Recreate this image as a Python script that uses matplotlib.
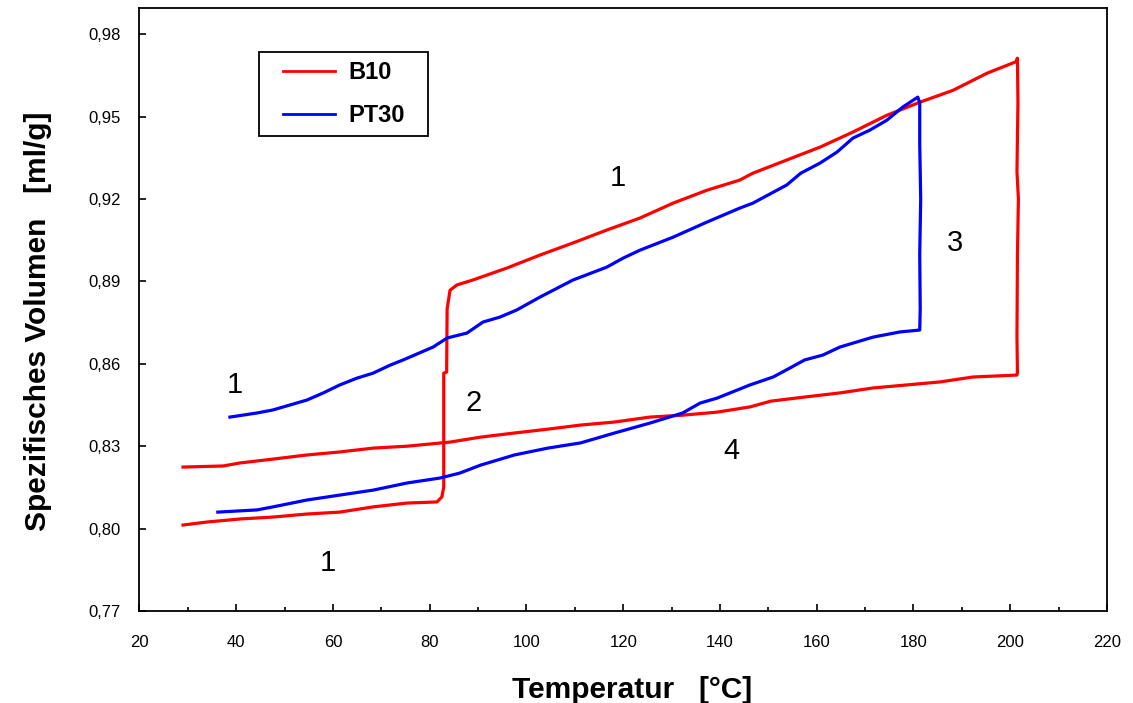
import matplotlib
matplotlib.use("Agg")
import matplotlib.pyplot as plt
from matplotlib.ticker import MultipleLocator
from matplotlib.patches import Rectangle

plt.rcParams['font.family'] = ['Liberation Sans', 'DejaVu Sans']

# B10 (red): heating, melting, heating, isothermal compression, cooling
b10_T = [29.0, 34, 40.8, 47.6, 54.6, 61.4, 68.3, 75.3, 81.5, 82.5, 82.9, 82.9, 83.5, 83.6, 84.2, 85.6,
         88.9, 96, 102.8, 109.6, 116.6, 123.5, 130.3, 137.3, 144.1, 146.8, 153.8, 160.7, 167.5, 174.5,
         181.4, 188.2, 195.2, 201.2, 201.5,
         201.6, 201.4, 201.7, 201.5, 201.4, 201.5,
         201.4, 192.3, 185.5, 178.6, 171.6, 164.8, 157.5, 150.5, 146.2, 139.4, 132.3, 125.5, 118.2,
         111.2, 104.4, 97.5, 90.5, 84.2, 75.3, 68.3, 61.4, 54.6, 47.6, 40.8, 37.3, 29.0]
b10_V = [0.8013, 0.8024, 0.8035, 0.8042, 0.8053, 0.8060, 0.8079, 0.8093, 0.8097, 0.8115, 0.8151, 0.8566,
         0.8570, 0.8800, 0.8868, 0.8887,
         0.8905, 0.8949, 0.8996, 0.9040, 0.9087, 0.9131, 0.9185, 0.9232, 0.9269, 0.9294, 0.9342, 0.9389,
         0.9444, 0.9505, 0.9553, 0.9596, 0.9658, 0.9700, 0.9713,
         0.9550, 0.9300, 0.9200, 0.9000, 0.8700, 0.8566,
         0.8559, 0.8552, 0.8534, 0.8523, 0.8512, 0.8494, 0.8479, 0.8464, 0.8443, 0.8424, 0.8413,
         0.8406, 0.8388, 0.8377, 0.8362, 0.8348, 0.8333, 0.8315, 0.8300, 0.8293, 0.8279, 0.8268,
         0.8253, 0.8239, 0.8228, 0.8224]

# PT30 (blue)
pt30_T = [38.7, 44.3, 47.6, 51.1, 54.6, 58, 61.4, 65, 68.3, 71.8, 74.5, 80.7, 83.6, 87.7, 91, 94.5, 98,
          102.8, 109.6, 116.6, 120, 123.5, 130.3, 137.3, 144.1, 146.8, 153.8, 156.7, 160.7, 164.2,
          167.5, 171, 174.5, 177.8, 180.9,
          181.3, 181.3, 181.5, 181.3, 181.4, 181.3,
          177.2, 171.6, 164.8, 161.3, 157.5, 154.5, 151, 146.2, 139.4, 135.9, 132.3, 125.5, 118.2,
          111.2, 104.4, 97.5, 90.5, 86.2, 82.1, 75.3, 68.3, 61.4, 54.6, 47.6, 44.3, 36.2]
pt30_V = [0.8406, 0.8421, 0.8432, 0.8450, 0.8468, 0.8494, 0.8523, 0.8548, 0.8566, 0.8595, 0.8614,
          0.8661, 0.8694, 0.8712, 0.8752, 0.8770, 0.8796, 0.8843, 0.8905, 0.8952, 0.8985, 0.9014,
          0.9061, 0.9116, 0.9167, 0.9185, 0.9251, 0.9294, 0.9331, 0.9371, 0.9422, 0.9451, 0.9487,
          0.9535, 0.9571,
          0.9550, 0.9400, 0.9200, 0.9000, 0.8800, 0.8723,
          0.8716, 0.8697, 0.8661, 0.8632, 0.8614, 0.8585, 0.8552, 0.8523, 0.8475, 0.8457, 0.8421,
          0.8384, 0.8348, 0.8312, 0.8293, 0.8268, 0.8231, 0.8202, 0.8184, 0.8166, 0.8140, 0.8122,
          0.8104, 0.8079, 0.8068, 0.8060]

# Stage annotations
ann_text = ["1", "1", "2", "3", "4", "1"]
ann_T = [39.8, 118.9, 89.1, 188.5, 142.3, 58.9]
ann_V = [0.8523, 0.9276, 0.8457, 0.9040, 0.8282, 0.7875]

x_ticks = [20, 40, 60, 80, 100, 120, 140, 160, 180, 200, 220]
y_ticks = [0.77, 0.80, 0.83, 0.86, 0.89, 0.92, 0.95, 0.98]
y_labels = ["0,77", "0,80", "0,83", "0,86", "0,89", "0,92", "0,95", "0,98"]

fig = plt.figure(figsize=(11.33, 7.03), dpi=100)
ax = fig.add_axes([0.1231, 0.1309, 0.977 - 0.1231, 0.988 - 0.1309])

ax.plot(b10_T, b10_V, color="#ff0000", lw=2.3, label="B10", solid_joinstyle='round')
ax.plot(pt30_T, pt30_V, color="#0000ff", lw=2.3, label="PT30", solid_joinstyle='round')

for t, xx, yy in zip(ann_text, ann_T, ann_V):
    ax.text(xx, yy, t, fontsize=21, ha="center", va="center", color="black")

ax.set_xlim(20, 220)
ax.set_ylim(0.77, 0.9894)
ax.set_xticks(x_ticks)
ax.set_xticklabels([str(v) for v in x_ticks], fontsize=12)
ax.xaxis.set_minor_locator(MultipleLocator(10))
ax.set_yticks(y_ticks)
ax.set_yticklabels(y_labels, fontsize=12)
ax.tick_params(axis="both", which="major", direction="in", length=5, width=1.2,
               top=False, right=False)
ax.tick_params(axis="x", which="major", pad=17)
ax.tick_params(axis="y", which="major", pad=13.5)
ax.tick_params(axis="x", which="minor", direction="in", length=3, width=1.2, top=False)
for s in ax.spines.values():
    s.set_linewidth(1.3)
    s.set_color("black")

ax.set_xlabel("Temperatur   [°C]", fontsize=21.5, fontweight="bold", labelpad=19)
ax.set_ylabel("Spezifisches Volumen   [ml/g]", fontsize=21.5, fontweight="bold", labelpad=26)
ax.xaxis.label.set_x(0.509)
ax.yaxis.label.set_y(0.48)

# legend: entries without frame, then a box with wider side padding
leg = ax.legend(loc="center left", bbox_to_anchor=(0.1483, 0.8578),
                prop={"weight": "bold", "size": 17}, frameon=False,
                handlelength=2.2, handletextpad=0.55, borderpad=0.0,
                labelspacing=0.82, borderaxespad=0)
for line in leg.get_lines():
    line.set_linewidth(2.0)

fig.canvas.draw()
bb = leg.get_window_extent(fig.canvas.get_renderer())
pad_x, pad_y = 24, 9
inv = fig.transFigure.inverted()
(x0, y0) = inv.transform((bb.x0 - pad_x, bb.y0 - pad_y))
(x1, y1) = inv.transform((bb.x1 + pad_x, bb.y1 + pad_y))
fig.patches.append(Rectangle((x0, y0), x1 - x0, y1 - y0, transform=fig.transFigure,
                             fill=False, edgecolor="black", linewidth=1.3, zorder=5))

fig.savefig("out.png", dpi=100)
